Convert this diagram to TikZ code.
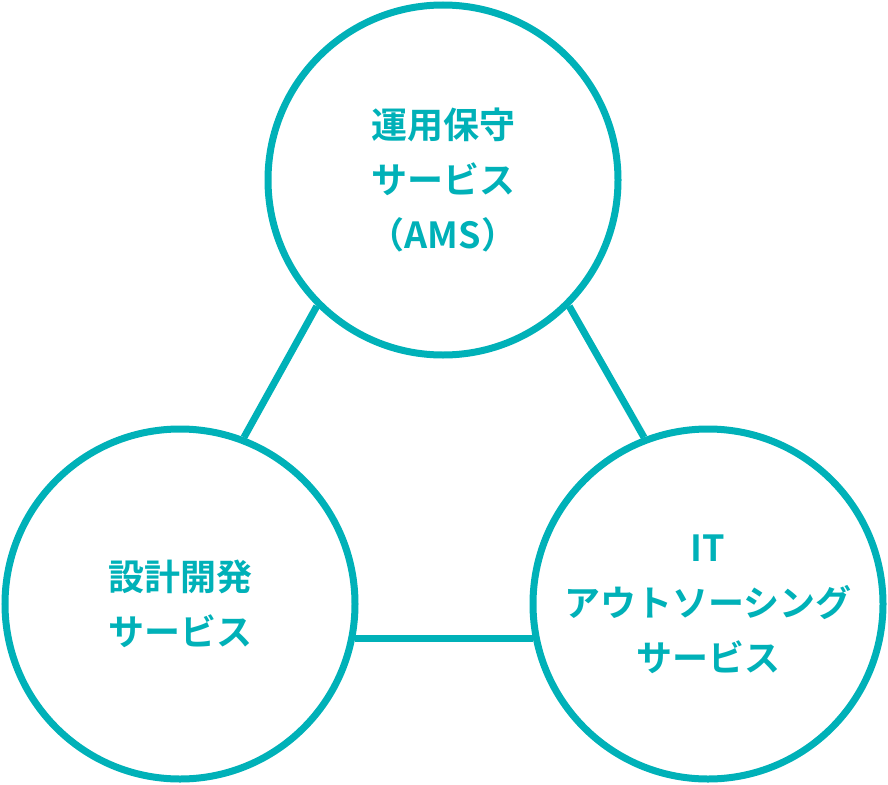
\documentclass[tikz,border=0pt]{standalone}
\usepackage{fontspec}
\newfontfamily\svcFont{Noto Sans CJK JP}[BoldFont={Noto Sans CJK JP Bold}]
\usetikzlibrary{backgrounds}
\definecolor{svcTeal}{HTML}{00B1B8}
\tikzset{
  svc diagram/.style={
    x=1pt, y=-1pt, line width=7pt,
    every node/.style={font=\svcFont\bfseries\fontsize{36}{55}\selectfont,
      text=svcTeal, align=center, inner sep=0pt}
  },
  svc circle/.style={circle, draw=svcTeal, fill=white, minimum size=350pt},
  svc link/.style={draw=svcTeal, line width=7pt}
}

\begin{document}
\begin{tikzpicture}[svc diagram]
    \useasboundingbox (0,0) rectangle (888,784);
    \node[svc circle] (ams) at (443,180) {運用保守\\サービス\\（AMS）};
    \node[svc circle] (dev) at (180,604) {設計開発\\サービス};
    \node[svc circle] (ito) at (708,604) {IT\\アウトソーシング\\サービス};
    \begin{scope}[on background layer]
      \draw[svc link] (ams.225) -- (dev.69);
      \draw[svc link] (ams.-45) -- (ito.111);
      \draw[svc link] (dev.-11) -- (ito.191);
    \end{scope}
  \end{tikzpicture}
\end{document}
